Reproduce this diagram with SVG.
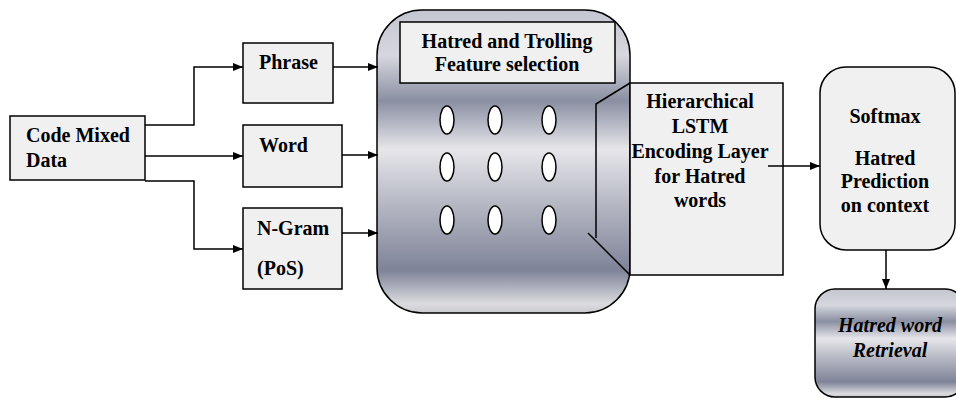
<svg xmlns="http://www.w3.org/2000/svg" width="956" height="400" viewBox="0 0 956 400">
<style>
.box{fill:#f0f0f0;stroke:#000;stroke-width:1.5}
.grad{fill:url(#metal);stroke:#000;stroke-width:1.5}
.t{font-family:'Liberation Serif','Times New Roman','DejaVu Serif',serif;font-weight:700;font-size:20px;fill:#000}
.c{text-anchor:middle}
.i{font-style:italic}
.ln{fill:none;stroke:#000;stroke-width:1.5}
.ov{fill:#fff;stroke:#000;stroke-width:1.5}
</style>
<defs>
<linearGradient id="metal" x1="0" y1="0" x2="0" y2="1">
<stop offset="0" stop-color="#c4c6d0"/>
<stop offset="0.15" stop-color="#d6d7de"/>
<stop offset="0.30" stop-color="#8a8fa2"/>
<stop offset="0.46" stop-color="#e6e6ea"/>
<stop offset="0.63" stop-color="#b8bac5"/>
<stop offset="0.86" stop-color="#7e8398"/>
<stop offset="0.97" stop-color="#dcdcdf"/>
<stop offset="1" stop-color="#c8c8d0"/>
</linearGradient>
<marker id="ah" markerWidth="10" markerHeight="8" refX="10" refY="4" orient="auto" markerUnits="userSpaceOnUse">
<path d="M0,0 L10,4 L0,8 Z" fill="#000"/>
</marker>
</defs>

<g id="big">
<rect class="grad" x="377" y="10" width="253" height="303" rx="45" ry="45"/>
</g>
<g id="feature">
<rect class="box" x="400" y="22" width="215" height="61"/>
<text class="t c" x="507" y="48" font-family="Liberation Serif">Hatred and Trolling</text>
<text class="t c" x="507" y="71" font-family="Liberation Serif">Feature selection</text>
</g>
<g id="neurons">
<ellipse class="ov" cx="447" cy="120" rx="7" ry="14"/>
<ellipse class="ov" cx="495" cy="120" rx="7" ry="14"/>
<ellipse class="ov" cx="549" cy="120" rx="7" ry="14"/>
<ellipse class="ov" cx="447" cy="167" rx="7" ry="14"/>
<ellipse class="ov" cx="495" cy="167" rx="7" ry="14"/>
<ellipse class="ov" cx="549" cy="167" rx="7" ry="14"/>
<ellipse class="ov" cx="447" cy="220" rx="7" ry="14"/>
<ellipse class="ov" cx="495" cy="220" rx="7" ry="14"/>
<ellipse class="ov" cx="549" cy="220" rx="7" ry="14"/>
</g>

<g id="code">
<rect class="box" x="10" y="116" width="135" height="64"/>
<text class="t" x="26" y="142">Code Mixed</text>
<text class="t" x="26" y="167">Data</text>
</g>
<g id="phrase">
<rect class="box" x="243" y="43" width="90" height="60"/>
<text class="t" x="259" y="69">Phrase</text>
</g>
<g id="word">
<rect class="box" x="243" y="125" width="99" height="62"/>
<text class="t" x="259" y="152">Word</text>
</g>
<g id="ngram">
<rect class="box" x="243" y="208" width="99" height="81"/>
<text class="t" x="257" y="235">N-Gram</text>
<text class="t" x="257" y="275">(PoS)</text>
</g>

<g id="lstm">
<rect class="box" x="630" y="83" width="153" height="192"/>
<text class="t c" x="700" y="108">Hierarchical</text>
<text class="t c" x="700" y="133">LSTM</text>
<text class="t c" x="700" y="158">Encoding Layer</text>
<text class="t c" x="700" y="183">for Hatred</text>
<text class="t c" x="700" y="207">words</text>
</g>
<g id="funnel">
<path class="ln" d="M630,83 L596,104 L596,238"/>
<path class="ln" d="M588,233 L630,275"/>
</g>

<g id="softmax">
<rect class="box" x="820" y="67" width="135" height="183" rx="26" ry="26"/>
<text class="t c" x="885" y="123">Softmax</text>
<text class="t c" x="885" y="165">Hatred</text>
<text class="t c" x="885" y="188">Prediction</text>
<text class="t c" x="885" y="212">on context</text>
</g>
<g id="retrieval">
<rect class="grad" x="815" y="289" width="150" height="108" rx="20" ry="20"/>
<text class="t c i" x="890" y="332">Hatred word</text>
<text class="t c i" x="890" y="357">Retrieval</text>
</g>

<g id="connectors">
<path class="ln" d="M145,125 H194 V67 H243" marker-end="url(#ah)"/>
<path class="ln" d="M145,156 H243" marker-end="url(#ah)"/>
<path class="ln" d="M145,181 H194 V249 H243" marker-end="url(#ah)"/>
<path class="ln" d="M333,67 H378" marker-end="url(#ah)"/>
<path class="ln" d="M342,155 H378" marker-end="url(#ah)"/>
<path class="ln" d="M342,233 H378" marker-end="url(#ah)"/>
<path class="ln" d="M768,166 H820" marker-end="url(#ah)"/>
<path class="ln" d="M886,250 V289" marker-end="url(#ah)"/>
</g>
</svg>
